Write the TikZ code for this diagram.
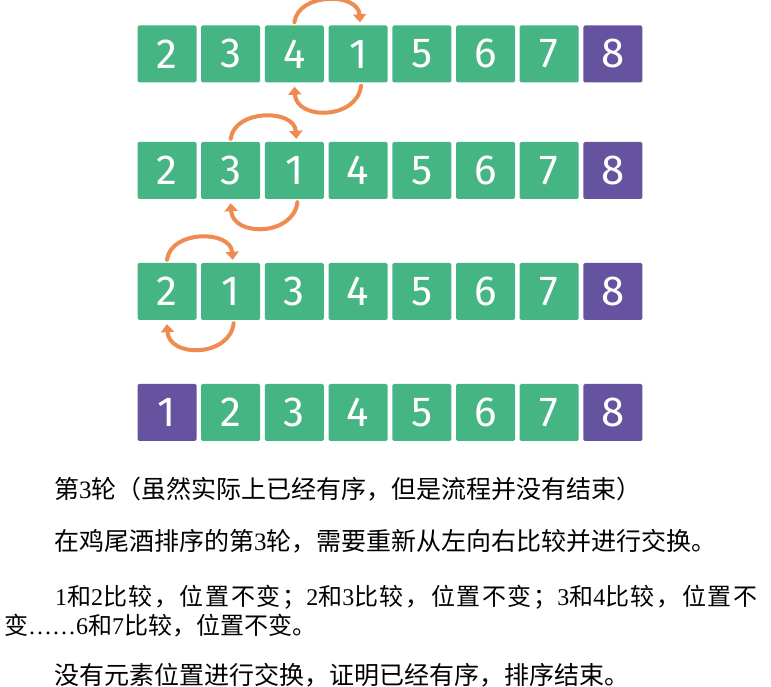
\documentclass[tikz,border=0pt]{standalone}
\usepackage{fontspec}
\setmainfont{Liberation Serif}
\newfontfamily\cjk{Noto Sans CJK SC}
\newfontfamily\cjkwide{Noto Sans CJK SC}[LetterSpace=6.6]
\newfontfamily\serwide{Liberation Serif}[LetterSpace=6.6]
\newfontfamily\hand{Fira Sans}
\usetikzlibrary{arrows.meta}
\definecolor{cellgreen}{HTML}{46B584}
\definecolor{cellpurple}{HTML}{6553A0}
\definecolor{swaporange}{HTML}{EF8B50}
\begin{document}
\begin{tikzpicture}[x=1pt, y=1pt,
  cell/.style={minimum width=59pt, minimum height=57pt, inner sep=0pt, rounded corners=1.5pt, text=white, font=\hand\fontsize{42}{42}\selectfont},
  unsorted/.style={fill=cellgreen},
  sorted/.style={fill=cellpurple},
  swap/.style={draw=swaporange, line width=4pt, line cap=round, -{Triangle[length=8pt,width=13pt]}},
  txt/.style={anchor=west, inner sep=0pt, font=\fontsize{25}{25}\selectfont}]
\useasboundingbox (0,0) rectangle (771,687);
% the four passes
\foreach \r/\y/\s in {A/633/{2/unsorted,3/unsorted,4/unsorted,1/unsorted,5/unsorted,6/unsorted,7/unsorted,8/sorted},
                      B/516.5/{2/unsorted,3/unsorted,1/unsorted,4/unsorted,5/unsorted,6/unsorted,7/unsorted,8/sorted},
                      C/395.5/{2/unsorted,1/unsorted,3/unsorted,4/unsorted,5/unsorted,6/unsorted,7/unsorted,8/sorted},
                      D/274.5/{1/sorted,2/unsorted,3/unsorted,4/unsorted,5/unsorted,6/unsorted,7/unsorted,8/sorted}}
  \foreach \n/\c [count=\i] in \s
    \node[cell, \c] (\r\i) at ({167+63.7*(\i-1)}, \y) {\n};
% swaps
\foreach \r/\a/\b in {A/3/4, B/2/3, C/1/2} {
  \draw[swap] ([yshift=3pt]\r\a.north) .. controls +(4,30) and +(-2,30) .. ([xshift=2pt,yshift=3pt]\r\b.north);
  \draw[swap] ([xshift=3pt,yshift=-3pt]\r\b.south) .. controls +(-4,-34) and +(2,-34) .. ([yshift=-4pt]\r\a.south);
}
% text
\node[txt] (T1) at (54,198) {{\cjk 第}3{\cjk 轮（虽然实际上已经有序，但是流程并没有结束）}};
\node[txt] (T2) at (54,146) {{\cjk 在鸡尾酒排序的第}3{\cjk 轮，需要重新从左向右比较并进行交换。}};
\node[txt, font=\fontsize{24}{24}\selectfont] (T3) at (55,90) {{\serwide 1}{\cjkwide 和}{\serwide 2}{\cjkwide 比较，位置不变；}{\serwide 2}{\cjkwide 和}{\serwide 3}{\cjkwide 比较，位置不变；}{\serwide 3}{\cjkwide 和}{\serwide 4}{\cjkwide 比较，位置不}};
\node[txt, font=\fontsize{24}{24}\selectfont] (T4) at (4,61) {{\cjk 变}……6{\cjk 和}7{\cjk 比较，位置不变。}};
\node[txt] (T5) at (54,12) {{\cjk 没有元素位置进行交换，证明已经有序，排序结束。}};
\end{tikzpicture}
\end{document}
